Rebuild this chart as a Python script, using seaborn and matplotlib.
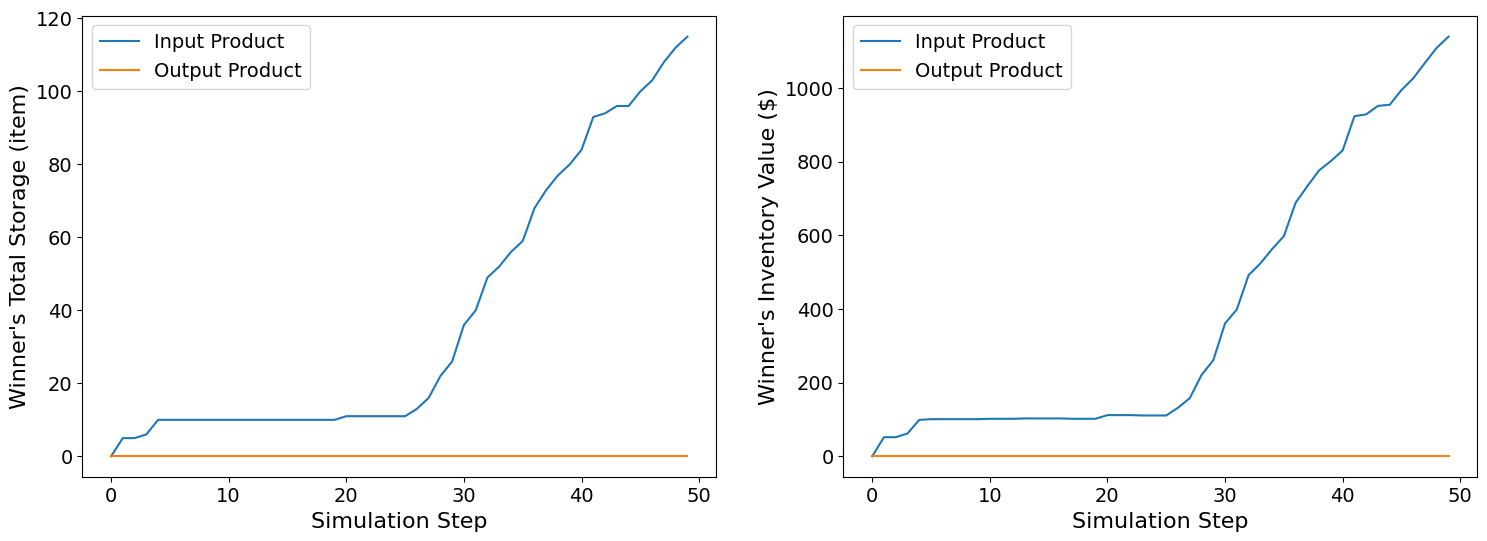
import numpy as np
import pandas as pd
import seaborn as sns
import matplotlib
matplotlib.use("Agg")
import matplotlib.pyplot as plt

steps = list(range(50))

# winner's total storage (items)
storage_input = [0, 5, 5, 6, 10, 10, 10, 10, 10, 10,
                 10, 10, 10, 10, 10, 10, 10, 10, 10, 10,
                 11, 11, 11, 11, 11, 11, 13, 16, 22, 26,
                 36, 40, 49, 52, 56, 59, 68, 73, 77, 80,
                 84, 93, 94, 96, 96, 100, 103, 108, 112, 115]
storage_output = [0] * 50

# winner's inventory value ($)
value_input = [0, 52, 52, 62, 99, 101, 101, 101, 101, 101,
               102, 102, 102, 103, 103, 103, 103, 102, 102, 102,
               112, 112, 112, 111, 111, 111, 132, 158, 221, 261,
               361, 399, 492, 524, 563, 598, 689, 734, 777, 802,
               831, 924, 929, 952, 955, 995, 1027, 1069, 1110, 1140]
value_output = [0] * 50

df_storage = pd.DataFrame({
    "step": steps * 2,
    "value": storage_input + storage_output,
    "product": ["Input Product"] * 50 + ["Output Product"] * 50,
})
df_value = pd.DataFrame({
    "step": steps * 2,
    "value": value_input + value_output,
    "product": ["Input Product"] * 50 + ["Output Product"] * 50,
})

colors = ["#1f77b4", "#ff7f0e"]

fig, axes = plt.subplots(1, 2, figsize=(14.87, 5.41), dpi=100)
plt.subplots_adjust(left=0.0553, right=0.9935, top=0.971, bottom=0.1177, wspace=0.2006)

for ax, data, ylabel in [
    (axes[0], df_storage, "Winner's Total Storage (item)"),
    (axes[1], df_value, "Winner's Inventory Value ($)"),
]:
    sns.lineplot(data=data, x="step", y="value", hue="product",
                 palette=colors, ax=ax, linewidth=1.5)
    ax.set_xlabel("Simulation Step", fontsize=16)
    ax.set_ylabel(ylabel, fontsize=16)
    ax.tick_params(labelsize=14)
    ax.legend(title=None, fontsize=14, loc="upper left")

plt.savefig("out.png", dpi=100)
